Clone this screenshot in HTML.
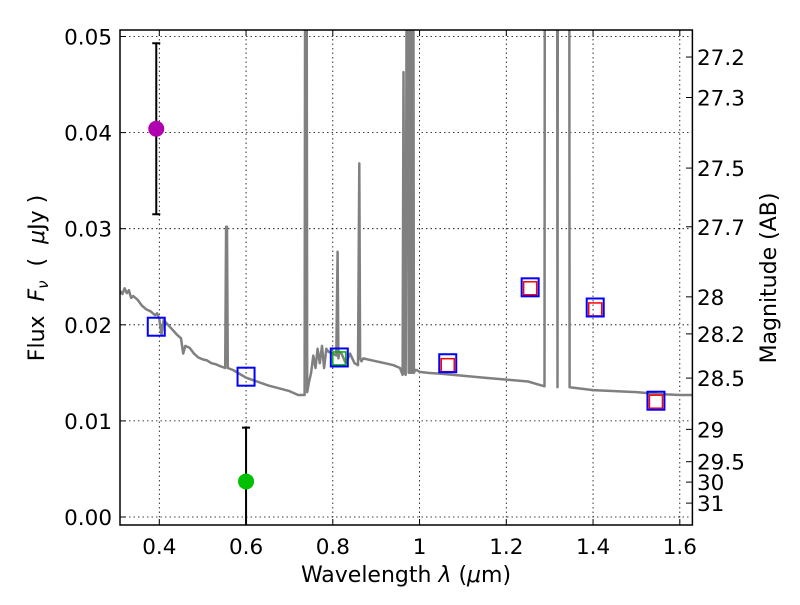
<!DOCTYPE html>
<html><head><meta charset="utf-8"><style>
body{margin:0;background:#fff}
svg{font-family:"DejaVu Sans","Liberation Sans",sans-serif}
</style></head><body>
<svg id="chart" width="800" height="600" viewBox="0 0 800 600" xmlns="http://www.w3.org/2000/svg">
<defs><clipPath id="clip"><rect x="120" y="30" width="572.4" height="495"/></clipPath></defs>
<rect width="800" height="600" fill="#fff"/>
<g id="grid"></g>
<g id="spec" clip-path="url(#clip)"></g>
<g id="marks"></g>
<rect x="120" y="30" width="572.4" height="495" fill="none" stroke="#000" stroke-width="1.5"/>
<g id="axes"></g>
<text x="406" y="582" font-size="22" text-anchor="middle">Wavelength  <tspan font-style="italic">λ</tspan> (<tspan font-style="italic">μ</tspan>m)</text>
<text transform="translate(44,278) rotate(-90)" font-size="22" text-anchor="middle" xml:space="preserve">Flux  <tspan font-style="italic">F<tspan font-size="15" dy="4">ν</tspan></tspan><tspan dy="-4">  (  </tspan><tspan font-style="italic">μ</tspan>Jy )</text>
<text transform="translate(776,278) rotate(-90)" font-size="22" text-anchor="middle">Magnitude (AB)</text>
</svg>
<script>
const xTicks=[0.4,0.6,0.8,1.0,1.2,1.4,1.6];
const xTickLabels=["0.4","0.6","0.8","1","1.2","1.4","1.6"];
const yTicks=[0,0.01,0.02,0.03,0.04,0.05];
const yTickLabels=["0.00","0.01","0.02","0.03","0.04","0.05"];
const magTicks=[27.2,27.3,27.5,27.7,28,28.2,28.5,29,29.5,30,31];
const magTickLabels=["27.2","27.3","27.5","27.7","28","28.2","28.5","29","29.5","30","31"];
const specWave=[0.31,0.315,0.32,0.325,0.33,0.335,0.34,0.35,0.36,0.37,0.38,0.39,0.395,0.4,0.405,0.41,0.42,0.43,0.44,0.45,0.455,0.46,0.47,0.48,0.49,0.5,0.51,0.52,0.53,0.54,0.552,0.554,0.556,0.558,0.57,0.6,0.65,0.7,0.72,0.735,0.737,0.739,0.741,0.745,0.75,0.755,0.76,0.765,0.77,0.775,0.78,0.785,0.79,0.8,0.808,0.811,0.813,0.815,0.82,0.83,0.84,0.85,0.858,0.861,0.863,0.866,0.87,0.88,0.9,0.92,0.94,0.955,0.961,0.963,0.965,0.968,0.972,0.975,0.977,0.979,0.981,0.983,0.985,0.987,0.99,0.993,1.0,1.02,1.05,1.1,1.15,1.2,1.25,1.288,1.291,1.315,1.318,1.321,1.343,1.346,1.4,1.45,1.5,1.55,1.6,1.63];
const specFlux=[0.0235,0.0232,0.0238,0.0233,0.0236,0.0228,0.0230,0.0226,0.0220,0.0216,0.0214,0.0210,0.0212,0.0206,0.0190,0.0205,0.0200,0.0195,0.0190,0.0186,0.0170,0.0178,0.0176,0.0170,0.0166,0.0164,0.0163,0.0160,0.0159,0.0157,0.0155,0.0302,0.0302,0.0155,0.0153,0.0145,0.0137,0.0131,0.0127,0.0127,0.09,0.09,0.0130,0.0140,0.0150,0.0168,0.0155,0.0175,0.0160,0.0178,0.0155,0.0175,0.0172,0.0170,0.0168,0.0276,0.0165,0.0172,0.0170,0.0160,0.0170,0.0160,0.0158,0.0368,0.0165,0.0162,0.0165,0.0164,0.0162,0.0160,0.0158,0.0155,0.0148,0.0463,0.0150,0.0148,0.09,0.015,0.09,0.015,0.09,0.015,0.09,0.015,0.0153,0.0153,0.0151,0.0150,0.0149,0.0147,0.0145,0.0143,0.0141,0.0136,0.2,0.2,0.0135,0.2,0.2,0.0135,0.0132,0.0131,0.0130,0.0128,0.0127,0.0127];
const bandWave=[0.393,0.6,0.815,1.065,1.255,1.405,1.545];
const bandObs=[0.0198,0.0146,0.0166,0.0160,0.0239,0.0218,0.0121];
const modelWave=[0.815,1.065,1.255,1.405,1.545];
const modelFlux=[0.0165,0.0158,0.0238,0.0216,0.0120];
const modelColor=["#00b000","#f00","#f00","#f00","#f00"];
const detWave=[0.393,0.6];
const detFlux=[0.0404,0.0037];
const detErr=[0.0089,0.0056];
const detColor=["#b000b0","#00c000"];

const X=v=>159.3+(v-0.4)*433.75;
const Y=v=>517-v*9610;
const NS="http://www.w3.org/2000/svg";
function mk(p,t,a){const e=document.createElementNS(NS,t);for(const k in a)e.setAttribute(k,a[k]);p.appendChild(e);return e;}
const grid=document.getElementById('grid'),axes=document.getElementById('axes'),spec=document.getElementById('spec'),marks=document.getElementById('marks');
xTicks.forEach((t,i)=>{
 const l=mk(grid,'line',{x1:X(t),x2:X(t),y1:30,y2:525,stroke:'#000','stroke-width':0.8,'stroke-dasharray':'1.5,3'});
 
 
 mk(axes,'line',{x1:X(t),x2:X(t),y1:525,y2:519,stroke:'#000'});
 mk(axes,'line',{x1:X(t),x2:X(t),y1:30,y2:36,stroke:'#000'});
 const tx=mk(axes,'text',{x:X(t),y:554,'font-size':21.5,'text-anchor':'middle'});
 tx.textContent=xTickLabels[i];
 
 
});
yTicks.forEach((t,i)=>{
 const l=mk(grid,'line',{x1:120,x2:692,y1:Y(t),y2:Y(t),stroke:'#000','stroke-width':0.8,'stroke-dasharray':'1.5,3'});
 
 
 mk(axes,'line',{x1:120,x2:126,y1:Y(t),y2:Y(t),stroke:'#000'});
 const tx=mk(axes,'text',{x:112,y:Y(t)+8,'font-size':21.5,'text-anchor':'end'});
 tx.textContent=yTickLabels[i];
 
 
});
magTicks.forEach((m,i)=>{
 const f=Math.pow(10,(23.9-m)/2.5);const y=Y(f);
 mk(axes,'line',{x1:686,x2:692,y1:y,y2:y,stroke:'#000'});
 const tx=mk(axes,'text',{x:697,y:y+8,'font-size':21.5});
 tx.textContent=magTickLabels[i];
 
 
});
const pl=mk(spec,'polyline',{points:specWave.map((w,i)=>X(w).toFixed(1)+','+Y(specFlux[i]).toFixed(1)).join(' '),fill:'none',stroke:'#808080','stroke-width':2.5,'stroke-linejoin':'round'});


detWave.forEach((w,i)=>{
 const x=X(w);
 const e=mk(marks,'path',{d:`M${x},${Y(detFlux[i]+detErr[i])}V${Y(detFlux[i]-detErr[i])}M${x-4},${Y(detFlux[i]+detErr[i])}h8M${x-4},${Y(detFlux[i]-detErr[i])}h8`,stroke:'#000','stroke-width':2,fill:'none','clip-path':'url(#clip)'});
 
 
 const c=mk(marks,'circle',{cx:x,cy:Y(detFlux[i]),r:8,fill:detColor[i]});
 
 
});
modelWave.forEach((w,i)=>{
 const r=mk(marks,'rect',{x:X(w)-6.5,y:Y(modelFlux[i])-6.5,width:13,height:13,fill:'none',stroke:modelColor[i],'stroke-width':1.5});
 
 
});
bandWave.forEach((w,i)=>{
 const r=mk(marks,'rect',{x:X(w)-8.5,y:Y(bandObs[i])-9,width:17,height:18,fill:'none',stroke:'#0000ff','stroke-width':2});
 
 
});
</script>
</body></html>
